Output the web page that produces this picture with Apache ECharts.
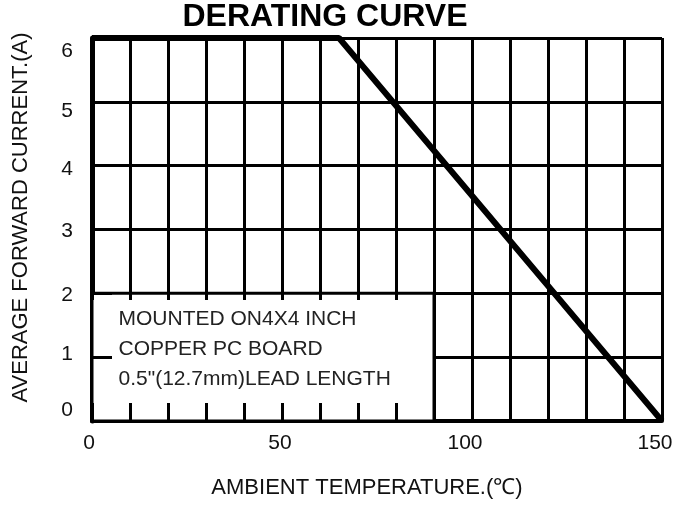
<!DOCTYPE html>
<html>
<head>
<meta charset="utf-8">
<title>Derating Curve</title>
<script src="https://cdn.jsdelivr.net/npm/echarts@6/dist/echarts.min.js"></script>
<style>
    html, body { margin: 0; padding: 0; background: #fff; }
    #chart { width: 691px; height: 506px; }
</style>
</head>
<body>
<div id="chart"></div>
<script>
// 降额曲线 data
var tempPoints = [0, 65, 150];
var currentPoints = [6, 6, 0];
var xTickLabels = ['0', '50', '100', '150'];
var yTickLabels = ['0', '1', '2', '3', '4', '5', '6'];
var noteLines = ['MOUNTED ON4X4 INCH', 'COPPER PC BOARD', '0.5"(12.7mm)LEAD LENGTH'];
var noteBox = [[0, 0], [90, 2]];

// the scanned labels sit a bit off their grid lines (px, style only)
var yLabelShift = [-11, -3, 2, 2, 4, 9, 13];
var xLabelShift = [-3, -2, -7, -7];

var FONT = '"Liberation Sans", Arial, sans-serif';

var chart = echarts.init(document.getElementById('chart'));

var lineData = tempPoints.map(function (t, i) {
    return [t, currentPoints[i]];
});

var yRich = {};
yTickLabels.forEach(function (lab, i) {
    var s = yLabelShift[i];
    yRich['y' + i] = {
        fontFamily: FONT, fontSize: 21, color: '#111',
        padding: s >= 0 ? [2 * s, 0, 0, 0] : [0, 0, -2 * s, 0]
    };
});
var xRich = {};
xTickLabels.forEach(function (lab, i) {
    var s = xLabelShift[i];
    xRich['x' + i] = {
        fontFamily: FONT, fontSize: 21, color: '#111',
        padding: s >= 0 ? [0, 0, 0, 2 * s] : [0, -2 * s, 0, 0]
    };
});

function stubAxis(extra) {
    var ax = {
        type: 'value',
        min: 0,
        max: 150,
        interval: 10,
        position: 'bottom',
        z: 10,
        axisLine: { show: false },
        axisLabel: { show: false },
        splitLine: { show: false }
    };
    for (var k in extra) ax[k] = extra[k];
    return ax;
}

var option = {
    backgroundColor: '#fff',
    animation: false,
    title: {
        text: 'DERATING CURVE',
        left: 325,
        top: 1,
        padding: 0,
        textAlign: 'center',
        textStyle: { fontFamily: FONT, fontSize: 32, fontWeight: 'bold', color: '#000' }
    },
    grid: { left: 92, right: 29, top: 38, bottom: 85 },
    xAxis: [
        {
            type: 'value',
            min: 0,
            max: 150,
            interval: 10,
            name: 'AMBIENT TEMPERATURE.(\u2103)',
            nameLocation: 'middle',
            nameGap: 56,
            nameTextStyle: { fontFamily: FONT, fontSize: 22, color: '#111', padding: [0, 20, 0, 0] },
            axisLine: { show: true, lineStyle: { color: '#000', width: 4 } },
            axisTick: { show: false },
            axisLabel: {
                margin: 12,
                rich: xRich,
                formatter: function (v) {
                    var i = xTickLabels.indexOf(String(v));
                    return i >= 0 ? '{x' + i + '|' + v + '}' : '';
                }
            },
            splitLine: { show: true, lineStyle: { color: '#000', width: 3 } }
        },
        // stubs poking up from the bottom edge inside the note box
        stubAxis({ axisTick: { show: true, inside: true, length: 18, lineStyle: { color: '#000', width: 3 } } }),
        // short stubs hanging under the top edge of the note box
        stubAxis({ offset: -128, axisTick: { show: true, inside: false, length: 7, lineStyle: { color: '#000', width: 3 } } })
    ],
    yAxis: [
        {
            type: 'value',
            min: 0,
            max: 6,
            interval: 1,
            name: 'AVERAGE FORWARD CURRENT.(A)',
            nameLocation: 'middle',
            nameGap: 60,
            nameTextStyle: { fontFamily: FONT, fontSize: 22, color: '#111', padding: [0, 0, 0, 24] },
            axisLine: { show: true, lineStyle: { color: '#000', width: 5 } },
            axisTick: { show: false },
            axisLabel: {
                margin: 19,
                rich: yRich,
                formatter: function (v) {
                    var i = yTickLabels.indexOf(String(v));
                    return i >= 0 ? '{y' + i + '|' + v + '}' : '';
                }
            },
            splitLine: { show: true, lineStyle: { color: '#000', width: 3 } }
        },
        {
            type: 'value',
            min: 0,
            max: 6,
            interval: 1,
            position: 'left',
            z: 10,
            axisLine: { show: false },
            axisTick: { show: true, inside: true, length: 20, lineStyle: { color: '#000', width: 3 } },
            axisLabel: { show: false },
            splitLine: { show: false }
        }
    ],
    series: [
        {
            type: 'line',
            data: lineData,
            showSymbol: false,
            symbol: 'none',
            clip: false,
            z: 5,
            lineStyle: { color: '#000', width: 6 },
            markArea: {
                silent: true,
                itemStyle: { color: '#fff', borderColor: '#000', borderWidth: 3 },
                label: {
                    show: true,
                    position: [28, 12],
                    formatter: noteLines.join('\n'),
                    fontFamily: FONT,
                    fontSize: 21,
                    lineHeight: 30,
                    color: '#222'
                },
                data: [[{ coord: noteBox[0] }, { coord: noteBox[1] }]]
            }
        }
    ]
};

chart.setOption(option);
</script>
</body>
</html>
